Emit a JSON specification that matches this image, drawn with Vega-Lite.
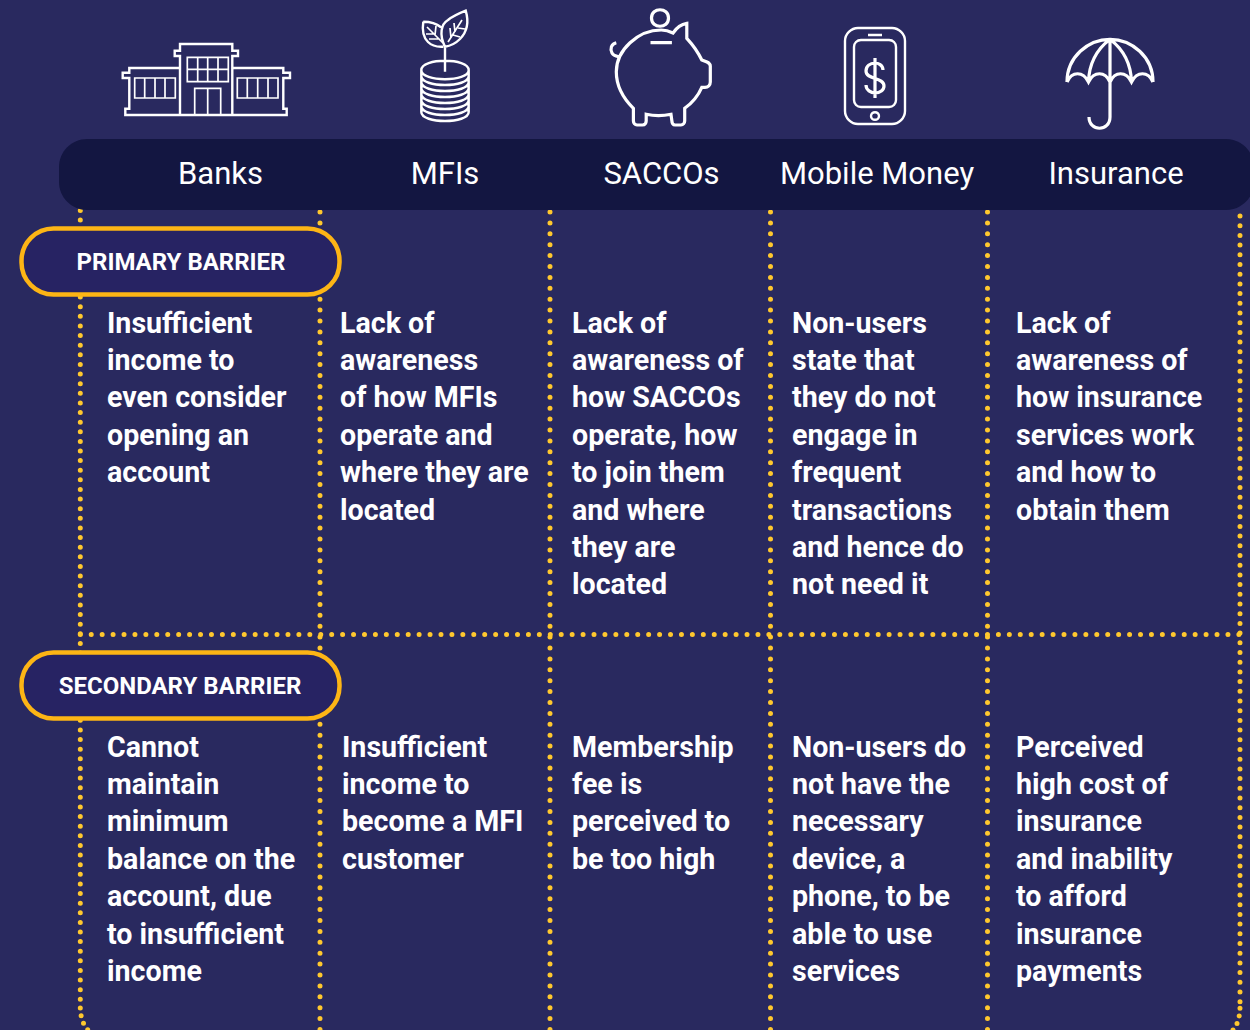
{
"$schema":"https://vega.github.io/schema/vega-lite/v6.json",
"width":1250,"height":1030,
"autosize":{"type":"fit","contains":"padding"},
"padding":0,
"background":"#29295f",
"view":{"stroke":null},
"config":{"view":{"stroke":null}},
"resolve":{"scale":{"x":"independent","y":"independent","shape":"independent"}},
"layer":[
{"data":{"values":[{"col":0,"from":0,"to":1}]},
 "mark":{"type":"rule","stroke":"#ffc82e","strokeWidth":5,"strokeCap":"round","strokeDash":[0,9.62]},
 "encoding":{"x":{"field":"col","type":"quantitative","axis":null,"scale":{"domain":[0,1],"range":[80.3,81.3],"nice":false,"zero":false}},
 "y":{"field":"from","type":"quantitative","axis":null,"scale":{"domain":[0,1],"range":[210.5,1008],"nice":false,"zero":false}},"y2":{"field":"to"}}},
{"data":{"values":[{"col":1,"from":0,"to":1},{"col":2,"from":0,"to":1},{"col":3,"from":0,"to":1},{"col":4,"from":0,"to":1}]},
 "mark":{"type":"rule","stroke":"#ffc82e","strokeWidth":5,"strokeCap":"round","strokeDash":[0,10.9]},
 "encoding":{"x":{"field":"col","type":"quantitative","axis":null,"scale":{"domain":[1,2,3,4],"range":[320,550,770.5,987.5],"nice":false,"zero":false}},
 "y":{"field":"from","type":"quantitative","axis":null,"scale":{"domain":[0,1],"range":[212,1030],"nice":false,"zero":false}},"y2":{"field":"to"}}},
{"data":{"values":[{"col":5,"from":0,"to":1}]},
 "mark":{"type":"rule","stroke":"#ffc82e","strokeWidth":5,"strokeCap":"round","strokeDash":[0,9.7]},
 "encoding":{"x":{"field":"col","type":"quantitative","axis":null,"scale":{"domain":[4,5],"range":[1239,1240],"nice":false,"zero":false}},
 "y":{"field":"from","type":"quantitative","axis":null,"scale":{"domain":[0,1],"range":[216,1008],"nice":false,"zero":false}},"y2":{"field":"to"}}},
{"data":{"values":[{"from":0,"to":1,"row":0}]},
 "mark":{"type":"rule","stroke":"#ffc82e","strokeWidth":5,"strokeCap":"round","strokeDash":[0,10.93]},
 "encoding":{"x":{"field":"from","type":"quantitative","axis":null,"scale":{"domain":[0,1],"range":[80.3,1240],"nice":false,"zero":false}},"x2":{"field":"to"},
 "y":{"field":"row","type":"quantitative","axis":null,"scale":{"domain":[0,1],"range":[634.5,635.5],"nice":false,"zero":false}}}},
{"data":{"values":[{"a":0,"b":0},{"a":0.05,"b":0.22},{"a":0.28,"b":0.55},{"a":1,"b":1}]},
 "mark":{"type":"line","stroke":"#ffc82e","strokeWidth":5,"strokeCap":"round","strokeDash":[0,7.8],"interpolate":"monotone"},
 "encoding":{"x":{"field":"a","type":"quantitative","axis":null,"scale":{"domain":[0,1],"range":[80.3,88],"nice":false,"zero":false}},
 "y":{"field":"b","type":"quantitative","axis":null,"scale":{"domain":[0,1],"range":[1008,1030],"nice":false,"zero":false}}}},
{"data":{"values":[{"a":0,"b":0},{"a":0.05,"b":0.22},{"a":0.28,"b":0.55},{"a":1,"b":1}]},
 "mark":{"type":"line","stroke":"#ffc82e","strokeWidth":5,"strokeCap":"round","strokeDash":[0,7.8],"interpolate":"monotone"},
 "encoding":{"x":{"field":"a","type":"quantitative","axis":null,"scale":{"domain":[0,1],"range":[1240,1233],"nice":false,"zero":false}},
 "y":{"field":"b","type":"quantitative","axis":null,"scale":{"domain":[0,1],"range":[1008,1030],"nice":false,"zero":false}}}},
{"data":{"values":[{"left":0,"right":1,"top":0,"bottom":1}]},
 "mark":{"type":"rect","fill":"#131641","cornerRadius":28},
 "encoding":{"x":{"field":"left","type":"quantitative","axis":null,"scale":{"domain":[0,1],"range":[59,1254],"nice":false,"zero":false}},"x2":{"field":"right"},
 "y":{"field":"top","type":"quantitative","axis":null,"scale":{"domain":[0,1],"range":[139,210],"nice":false,"zero":false}},"y2":{"field":"bottom"}}},
{"data":{"values":[{"name":"Primary","left":0,"right":1,"top":1,"bottom":2},{"name":"Secondary","left":0,"right":1,"top":3,"bottom":4}]},
 "mark":{"type":"rect","fill":"#272363","stroke":"#fdb515","strokeWidth":4.5,"cornerRadius":32},
 "encoding":{"x":{"field":"left","type":"quantitative","axis":null,"scale":{"domain":[0,1],"range":[21.5,339.5],"nice":false,"zero":false}},"x2":{"field":"right"},
 "y":{"field":"top","type":"quantitative","axis":null,"scale":{"domain":[1,2,3,4],"range":[228.5,294.5,652.5,718.5],"nice":false,"zero":false}},"y2":{"field":"bottom"}}},
{"data":{"values":[{"col":1,"label":"Banks"},{"col":2,"label":"MFIs"},{"col":3,"label":"SACCOs"},{"col":4,"label":"Mobile Money"},{"col":5,"label":"Insurance"}]},
 "mark":{"type":"text","font":"Roboto","fontSize":31,"fill":"#ffffff","align":"center","baseline":"alphabetic"},
 "encoding":{"x":{"field":"col","type":"quantitative","axis":null,"scale":{"domain":[1,2,3,4,5],"range":[220.5,445,661.5,877,1116],"nice":false,"zero":false}},
 "y":{"field":"col","type":"quantitative","axis":null,"scale":{"domain":[1,5],"range":[184,184],"nice":false,"zero":false}},
 "text":{"field":"label","type":"nominal"}}},
{"data":{"values":[{"row":1,"label":"PRIMARY BARRIER"},{"row":2,"label":"SECONDARY BARRIER"}]},
 "mark":{"type":"text","font":"Roboto","fontWeight":"bold","fontSize":24,"fill":"#ffffff","align":"center","baseline":"alphabetic"},
 "encoding":{"x":{"field":"row","type":"quantitative","axis":null,"scale":{"domain":[1,2],"range":[181,180],"nice":false,"zero":false}},
 "y":{"field":"row","type":"quantitative","axis":null,"scale":{"domain":[1,2],"range":[270,694],"nice":false,"zero":false}},
 "text":{"field":"label","type":"nominal"}}},
{"data":{"values":[
 {"col":1,"row":1,"lines":["Insufficient","income to","even consider","opening an","account"]},
 {"col":2,"row":1,"lines":["Lack of","awareness","of how MFIs","operate and","where they are","located"]},
 {"col":3,"row":1,"lines":["Lack of","awareness of","how SACCOs","operate, how","to join them","and where","they are","located"]},
 {"col":4,"row":1,"lines":["Non-users","state that","they do not","engage in","frequent","transactions","and hence do","not need it"]},
 {"col":5,"row":1,"lines":["Lack of","awareness of","how insurance","services work","and how to","obtain them"]}
 ]},
 "mark":{"type":"text","font":"Roboto","fontWeight":"bold","fontSize":28.6,"lineHeight":37.4,"fill":"#ffffff","align":"left","baseline":"alphabetic"},
 "encoding":{"x":{"field":"col","type":"quantitative","axis":null,"scale":{"domain":[1,2,3,4,5],"range":[107,340,572,792,1016],"nice":false,"zero":false}},
 "y":{"field":"row","type":"quantitative","axis":null,"scale":{"domain":[1,2],"range":[332.5,756.5],"nice":false,"zero":false}},
 "text":{"field":"lines"}}},
{"data":{"values":[
 {"col":1,"row":2,"lines":["Cannot","maintain","minimum","balance on the","account, due","to insufficient","income"]},
 {"col":2,"row":2,"lines":["Insufficient","income to","become a MFI","customer"]},
 {"col":3,"row":2,"lines":["Membership","fee is","perceived to","be too high"]},
 {"col":4,"row":2,"lines":["Non-users do","not have the","necessary","device, a","phone, to be","able to use","services"]},
 {"col":5,"row":2,"lines":["Perceived","high cost of","insurance","and inability","to afford","insurance","payments"]}
 ]},
 "mark":{"type":"text","font":"Roboto","fontWeight":"bold","fontSize":28.6,"lineHeight":37.4,"fill":"#ffffff","align":"left","baseline":"alphabetic"},
 "encoding":{"x":{"field":"col","type":"quantitative","axis":null,"scale":{"domain":[1,2,3,4,5],"range":[107,342,572,792,1016],"nice":false,"zero":false}},
 "y":{"field":"row","type":"quantitative","axis":null,"scale":{"domain":[1,2],"range":[332.5,756.5],"nice":false,"zero":false}},
 "text":{"field":"lines"}}},
{"data":{"values":[{"col":1,"icon":"Banks"},{"col":2,"icon":"MFIs"},{"col":4,"icon":"Mobile Money"}]},
 "mark":{"type":"point","filled":false,"size":4,"stroke":"#ffffff","strokeWidth":2.4,"opacity":1},
 "encoding":{"x":{"field":"col","type":"quantitative","axis":null,"scale":{"domain":[1,2,4],"range":[200,445,875],"nice":false,"zero":false}},
 "y":{"field":"col","type":"quantitative","axis":null,"scale":{"domain":[1,2,4],"range":[80,70,76],"nice":false,"zero":false}},
 "shape":{"field":"icon","type":"nominal","legend":null,"scale":{"domain":["Banks","MFIs","Mobile Money"],"range":[
 "M-20 35L-20 -24L-25.3 -24L-25.3 -29.3L-20 -29.3L-20 -36L32.3 -36L32.3 -29.3L38 -29.3L38 -24L32.3 -24L32.3 35M-20 -12L-70.7 -12L-70.7 -7.3L-77.3 -7.3L-77.3 -2L-70.7 -2L-70.7 28.7L-74.7 28.7L-74.7 35L86.7 35L86.7 28.7L83.3 28.7L83.3 -2L90 -2L90 -7.3L83.3 -7.3L83.3 -12L32.3 -12",
 "M-23.7 0C-23.7 -12.4 23.7 -12.4 23.7 0C23.7 12.4 -23.7 12.4 -23.7 0ZM-23.7 0L-23.7 42M23.7 0L23.7 42M-23.7 6C-23.7 18 23.7 18 23.7 6M-23.7 12C-23.7 24 23.7 24 23.7 12M-23.7 18C-23.7 30 23.7 30 23.7 18M-23.7 24C-23.7 36 23.7 36 23.7 24M-23.7 30C-23.7 42 23.7 42 23.7 30M-23.7 36C-23.7 48 23.7 48 23.7 36M-23.7 42C-23.7 54 23.7 54 23.7 42M0 1.7L0 -23.3M0 -23.3C-6 -35 -4 -46 3 -50C8 -54 15 -57 20.7 -59.3C24 -48 22 -38 15 -31C10 -26 5 -24 0 -23.3M-21.7 -48.3C-15 -48.3 -8 -46 -4 -42.7M-21.7 -48.3C-23 -40 -22 -33 -17 -28C-12 -23 -6 -23 -1.7 -23.3",
 "M-17 -48L17 -48C24 -48 30 -42 30 -35L30 35C30 42 24 48 17 48L-17 48C-24 48 -30 42 -30 35L-30 -35C-30 -42 -24 -48 -17 -48ZM-14 -36L14 -36C18 -36 21 -33 21 -29L21 24C21 28 18 31 14 31L-14 31C-18 31 -21 28 -21 24L-21 -29C-21 -33 -18 -36 -14 -36ZM-7 -41L7 -41M4 40C4 45 -4 45 -4 40C-4 35 4 35 4 40Z"
 ]}}}},
{"data":{"values":[{"col":1,"icon":"Banks"},{"col":2,"icon":"MFIs"}]},
 "mark":{"type":"point","filled":false,"size":4,"stroke":"#ffffff","strokeWidth":1.7,"opacity":1},
 "encoding":{"x":{"field":"col","type":"quantitative","axis":null,"scale":{"domain":[1,2],"range":[200,445],"nice":false,"zero":false}},
 "y":{"field":"col","type":"quantitative","axis":null,"scale":{"domain":[1,2],"range":[80,70],"nice":false,"zero":false}},
 "shape":{"field":"icon","type":"nominal","legend":null,"scale":{"domain":["Banks","MFIs"],"range":[
 "M-65.3 -2L-24.7 -2L-24.7 18L-65.3 18ZM-55.3 -2L-55.3 18M-45 -2L-45 18M-35 -2L-35 18M37.3 -2L78 -2L78 18L37.3 18ZM47.3 -2L47.3 18M57.7 -2L57.7 18M68 -2L68 18M-12.7 -22.7L28.3 -22.7L28.3 1.7L-12.7 1.7ZM-12.7 -10.7L28.3 -10.7M-2.3 -22.7L-2.3 1.7M7.7 -22.7L7.7 1.7M18 -22.7L18 1.7M-5.3 35L-5.3 8.3L20.7 8.3L20.7 35M7.7 8.3L7.7 35",
 "M3 -28L17 -50M6 -32L5 -42M10 -38L9 -47M8 -35L15 -33M13 -42L20 -41M-2 -27L-18 -43M-6 -31L-16 -31M-10 -36L-19 -36M-10 -35L-9 -44"
 ]}}}},
{"data":{"values":[{"col":3,"icon":"SACCOs"},{"col":4,"icon":"Mobile Money"},{"col":5,"icon":"Insurance"}]},
 "mark":{"type":"point","filled":false,"size":4,"stroke":"#ffffff","strokeWidth":3.2,"opacity":1},
 "encoding":{"x":{"field":"col","type":"quantitative","axis":null,"scale":{"domain":[3,4,5],"range":[660,875,1110],"nice":false,"zero":false}},
 "y":{"field":"col","type":"quantitative","axis":null,"scale":{"domain":[3,4,5],"range":[70,76,85],"nice":false,"zero":false}},
 "shape":{"field":"icon","type":"nominal","legend":null,"scale":{"domain":["SACCOs","Mobile Money","Insurance"],"range":[
 "M13 -37C17 -43 22 -46 26.8 -46.7L26.8 -31.7C33 -25 38 -18 41.8 -10L47 -8C49 -7 50.3 -6 50.3 -4L50.3 12C50.3 15 48 17.3 45 17.3L41.8 17.3C38 26 32 33 24.7 38.3L24.7 51C24.7 53 23 55 21 55L15 55C13 55 11.9 53 11.9 51L11 44.3C3 46 -6 46 -13.8 44.3L-13.8 51C-13.8 53 -15 55 -17.5 55L-23 55C-25 55 -26.6 53 -26.6 51L-26.6 38.3C-37 28 -43.7 16 -43.7 1.7C-43.7 -20 -22 -40 1.2 -40C5 -40 9 -39 13 -37ZM-43.7 -27.3C-49 -26 -50 -21 -48 -17C-47 -15 -45 -14 -41.5 -13.3M-9.5 -27.3L11.9 -27.3M8.5 -52C8.5 -41 -8.5 -41 -8.5 -52C-8.5 -63 8.5 -63 8.5 -52Z",
 "M8 -6C8 -11 3 -13 0 -13C-5 -13 -9 -10 -9 -5C-9 4 9 1 9 10C9 14 5 17 0 17C-4 17 -9 14 -9 9M0 -18L0 22",
 "M-43 -3C-43 -28 -22 -45.7 0 -45.7C22 -45.7 43 -28 43 -3M-43 -3C-38 -14 -27 -14 -21.5 -3C-16 -14 -5 -14 0 -3C5 -14 16 -14 21.5 -3C27 -14 38 -14 43 -3M0 -45.7L0 32C0 47 -21 47 -21 32M0 -45.7C-14 -35 -21 -20 -21.5 -3M0 -45.7C14 -35 21 -20 21.5 -3"
 ]}}}}
]}
